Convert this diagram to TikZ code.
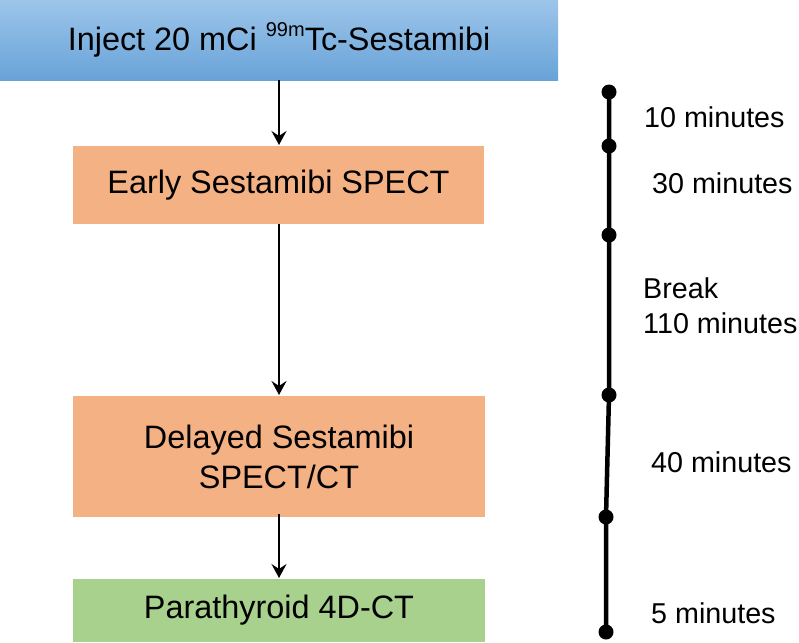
\documentclass[tikz,border=0pt]{standalone}
\usepackage{fontspec}
\setmainfont{Liberation Sans}
\usetikzlibrary{arrows.meta}
\definecolor{bluetop}{HTML}{9DC5EA}
\definecolor{bluebot}{HTML}{68A3D8}
\definecolor{orangebox}{HTML}{F4B183}
\definecolor{greenbox}{HTML}{A9D18E}
\tikzset{
  stepbox/.style={anchor=north west, inner sep=0pt, outer sep=0pt, draw=none, align=center},
  flow/.style={line width=2.4pt, -{Stealth[length=14pt,width=15pt,inset=5pt]}},
  tline/.style={line width=4.5pt},
  tdot/.style={circle, fill=black, minimum size=15pt, inner sep=0pt},
  tlabel/.style={anchor=west, inner sep=0pt, font=\fontsize{28.7}{35}\selectfont},
  boxtext/.style={font=\fontsize{32.4}{40}\selectfont}
}
\begin{document}
\begin{tikzpicture}[x=1pt,y=-1pt]
\useasboundingbox (0,0) rectangle (799,642);
% boxes
\node[stepbox, minimum width=558pt, minimum height=80pt, top color=bluetop, bottom color=bluebot] (b1) at (0,0) {};
\node[boxtext] at (b1.center) {Inject 20 mCi \raisebox{0.45em}{\fontsize{20}{21}\selectfont 99m}Tc-Sestamibi};
\node[stepbox, minimum width=411pt, minimum height=78pt, fill=orangebox] (b2) at (73,146) {};
\node[boxtext] at (b2.center) {Early Sestamibi SPECT};
\node[stepbox, minimum width=412pt, minimum height=121pt, fill=orangebox] (b3) at (73,396) {};
\node[boxtext, align=center] at (b3.center) {Delayed Sestamibi\\SPECT/CT};
\node[stepbox, minimum width=412pt, minimum height=63pt, fill=greenbox] (b4) at (73,579) {};
\node[boxtext] at (b4.center) {Parathyroid 4D-CT};
% arrows
\coordinate (a1s) at (279,80); \coordinate (a1e) at (279,145);
\coordinate (a2s) at (279,224); \coordinate (a2e) at (279,395);
\coordinate (a3s) at (279,514); \coordinate (a3e) at (279,578);
\draw[flow] (a1s) -- (a1e);
\draw[flow] (a2s) -- (a2e);
\draw[flow] (a3s) -- (a3e);
% timeline
\coordinate (t1) at (609,92);
\coordinate (t2) at (609,146);
\coordinate (t3) at (609,235);
\coordinate (t4) at (609,395);
\coordinate (t5) at (606,517);
\coordinate (t6) at (606,632);
\draw[tline] (t1) -- (t2) -- (t3) -- (t4) -- (t5) -- (t6);
\foreach \t in {t1,t2,t3,t4,t5,t6} \node[tdot] at (\t) {};
\node[tlabel] (l1) at (644,117) {10 minutes};
\node[tlabel] (l2) at (652,183) {30 minutes};
\node[tlabel, align=left] (l3) at (643,306) {Break\\110 minutes};
\node[tlabel] (l4) at (651,462) {40 minutes};
\node[tlabel] (l5) at (651,613) {5 minutes};
\end{tikzpicture}
\end{document}
